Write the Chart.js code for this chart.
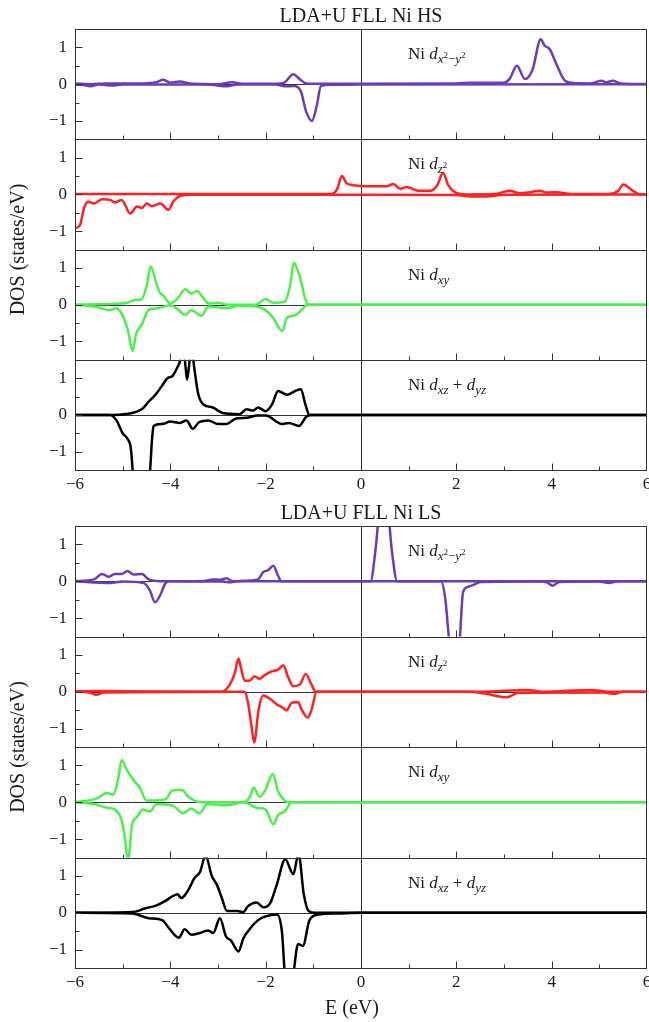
<!DOCTYPE html>
<html>
<head>
<meta charset="utf-8">
<script src="https://cdn.jsdelivr.net/npm/chart.js@4.4.0/dist/chart.umd.min.js"></script>
<style>
  body { margin: 0; background: #fff; }
  #wrap { position: relative; width: 649px; height: 1022px; }
  #wrap canvas { position: absolute; left: 0; top: 0; }
</style>
</head>
<body>
<div id="wrap"></div>
<script>
const serif = '"Liberation Serif", "DejaVu Serif", serif';

const groupTitles = ['LDA+U FLL Ni HS', 'LDA+U FLL Ni LS'];
const yTitle = 'DOS (states/eV)';
const xTitle = 'E (eV)';
const xTicks = [-6, -4, -2, 0, 2, 4, 6];
const yTicks = [-1, 0, 1];

// orbital names as [text, style] pieces (style: r roman, i italic, s/si subscript, ss sup in subscript)
const orbX2y2 = [['Ni ', 'r'], ['d', 'i'], ['x', 'si'], ['2', 'ss'], ['\u2212', 's'], ['y', 'si'], ['2', 'ss']];
const orbZ2 = [['Ni ', 'r'], ['d', 'i'], ['z', 'si'], ['2', 'ss']];
const orbXy = [['Ni ', 'r'], ['d', 'i'], ['xy', 'si']];
const orbXzYz = [['Ni ', 'r'], ['d', 'i'], ['xz', 'si'], [' + ', 'r'], ['d', 'i'], ['yz', 'si']];

// ---- HS: [E (eV), DOS] ----
const hsX2y2Up = [[-6,0.02],[-5.7,0.0],[-5.3,0.02],[-4.6,0.02],[-4.3,0.05],[-4.15,0.12],[-4.0,0.04],[-3.8,0.07],[-3.6,0.02],[-3.0,0.0],[-2.7,0.05],[-2.5,0.01],[-1.8,0.01],[-1.6,0.05],[-1.42,0.27],[-1.3,0.15],[-1.15,0.02],[-0.9,0.01],[0,0.01],[2.0,0.02],[2.3,0.04],[2.6,0.04],[3.0,0.04],[3.12,0.15],[3.27,0.5],[3.44,0.14],[3.6,0.4],[3.77,1.22],[3.85,1.05],[3.96,0.95],[4.1,0.54],[4.28,0.09],[4.45,0.03],[4.8,0.02],[5.05,0.09],[5.15,0.05],[5.28,0.09],[5.45,0.02],[6,0.0]];
const hsX2y2Dn = [[-6,-0.02],[-5.85,-0.02],[-5.68,-0.06],[-5.5,-0.01],[-5.22,-0.04],[-5.0,-0.01],[-3.2,-0.01],[-2.81,-0.06],[-2.6,-0.01],[-1.8,-0.01],[-1.6,-0.06],[-1.4,-0.05],[-1.26,-0.2],[-1.15,-0.75],[-1.03,-1.0],[-0.93,-0.6],[-0.84,-0.05],[-0.6,-0.02],[0,-0.01],[6,0]];
const hsZ2Up = [[-6,0.01],[-3,0.01],[-1,0.01],[-0.6,0.02],[-0.5,0.15],[-0.4,0.5],[-0.3,0.3],[-0.15,0.25],[0,0.23],[0.3,0.22],[0.54,0.22],[0.68,0.28],[0.82,0.15],[0.96,0.2],[1.2,0.1],[1.45,0.1],[1.6,0.25],[1.72,0.59],[1.83,0.25],[1.95,0.08],[2.2,0.0],[2.8,0.01],[3.12,0.1],[3.33,0.03],[3.55,0.06],[3.75,0.1],[3.9,0.05],[4.1,0.06],[4.4,0.01],[5.2,0.01],[5.4,0.1],[5.5,0.27],[5.72,0.08],[5.85,0],[6,0]];
const hsZ2Dn = [[-6,-0.92],[-5.9,-0.85],[-5.8,-0.33],[-5.72,-0.2],[-5.6,-0.25],[-5.43,-0.13],[-5.26,-0.15],[-5.16,-0.22],[-5.02,-0.15],[-4.84,-0.52],[-4.7,-0.33],[-4.6,-0.37],[-4.49,-0.25],[-4.39,-0.32],[-4.21,-0.25],[-4.04,-0.42],[-3.93,-0.18],[-3.8,-0.05],[-3.6,-0.01],[-1,-0.01],[0,-0.01],[2.0,-0.02],[2.3,-0.06],[2.7,-0.05],[3.0,-0.01],[6,0]];
const hsXyUp = [[-6,0],[-5.3,0.02],[-4.9,0.05],[-4.77,0.12],[-4.6,0.15],[-4.5,0.5],[-4.41,1.04],[-4.3,0.6],[-4.23,0.35],[-4.15,0.25],[-4.0,0.03],[-3.86,0.15],[-3.68,0.42],[-3.56,0.3],[-3.44,0.37],[-3.32,0.2],[-3.2,0.03],[-3.0,0.05],[-2.8,0.0],[-2.2,0.0],[-2.0,0.15],[-1.84,0.05],[-1.6,0.08],[-1.49,0.5],[-1.41,1.14],[-1.32,0.9],[-1.25,0.6],[-1.18,0.2],[-1.1,0.0],[6,0]];
const hsXyDn = [[-6,0],[-5.6,-0.05],[-5.26,-0.15],[-5.13,-0.1],[-5.0,-0.3],[-4.89,-0.7],[-4.79,-1.26],[-4.72,-0.8],[-4.6,-0.55],[-4.46,-0.15],[-4.28,-0.1],[-4.0,-0.02],[-3.85,-0.12],[-3.69,-0.28],[-3.56,-0.15],[-3.35,-0.3],[-3.2,-0.05],[-2.83,-0.1],[-2.55,-0.03],[-2.2,-0.05],[-2.0,-0.15],[-1.85,-0.35],[-1.65,-0.72],[-1.55,-0.35],[-1.4,-0.3],[-1.25,-0.15],[-1.12,0],[6,0]];
const hsXzYzUp = [[-6,0],[-5.2,0.0],[-4.8,0.05],[-4.6,0.15],[-4.46,0.35],[-4.31,0.55],[-4.17,0.8],[-4.06,1.0],[-3.96,1.05],[-3.85,1.3],[-3.8,1.45],[-3.74,1.9],[-3.68,1.3],[-3.65,0.96],[-3.61,1.3],[-3.56,1.9],[-3.5,1.3],[-3.42,0.6],[-3.32,0.3],[-3.11,0.2],[-2.9,0.05],[-2.55,0.02],[-2.4,0.15],[-2.26,0.12],[-2.16,0.2],[-2.0,0.1],[-1.86,0.3],[-1.74,0.65],[-1.55,0.55],[-1.38,0.65],[-1.26,0.7],[-1.17,0.3],[-1.08,0],[6,0]];
const hsXzYzDn = [[-6,0],[-5.26,0],[-5.13,-0.15],[-5.0,-0.5],[-4.9,-0.65],[-4.83,-0.9],[-4.76,-1.9],[-4.6,-2.2],[-4.45,-1.9],[-4.38,-0.6],[-4.35,-0.3],[-4.17,-0.25],[-4.0,-0.18],[-3.8,-0.22],[-3.66,-0.15],[-3.53,-0.38],[-3.4,-0.2],[-3.2,-0.15],[-3.0,-0.25],[-2.83,-0.25],[-2.62,-0.1],[-2.4,-0.08],[-2.17,-0.02],[-2.0,-0.02],[-1.66,-0.25],[-1.52,-0.22],[-1.3,-0.3],[-1.15,-0.05],[-1.05,0],[6,0]];

// ---- LS ----
const lsX2y2Up = [[-6,0],[-5.6,0.05],[-5.43,0.2],[-5.3,0.12],[-5.16,0.2],[-5.02,0.2],[-4.9,0.28],[-4.77,0.18],[-4.6,0.2],[-4.45,0.05],[-4.2,0.0],[-3.3,0.01],[-3.1,0.05],[-2.95,0.04],[-2.82,0.08],[-2.7,0.0],[-2.3,0.02],[-2.16,0.05],[-2.05,0.25],[-1.95,0.3],[-1.84,0.42],[-1.74,0.15],[-1.67,0.0],[0.2,0.0],[0.3,0.8],[0.48,3.0],[0.65,0.8],[0.76,0.0],[6,0]];
const lsX2y2Dn = [[-6,0],[-5.26,-0.05],[-5.0,-0.01],[-4.56,-0.05],[-4.43,-0.25],[-4.32,-0.57],[-4.22,-0.4],[-4.1,-0.05],[-4.0,0],[-2.9,-0.01],[-2.75,-0.03],[-2.6,0],[1.68,0],[1.77,-0.5],[1.85,-1.6],[1.96,-2.5],[2.07,-1.6],[2.14,-0.3],[2.25,-0.15],[2.36,-0.1],[2.5,-0.02],[3.7,-0.01],[3.9,-0.03],[4.02,-0.12],[4.16,-0.02],[5.0,-0.01],[5.2,-0.05],[5.4,0],[6,0]];
const lsZ2Up = [[-6,0.01],[-5.5,0.02],[-3,0.0],[-2.92,0.0],[-2.75,0.2],[-2.65,0.5],[-2.57,0.9],[-2.51,0.6],[-2.44,0.3],[-2.34,0.3],[-2.23,0.42],[-2.13,0.35],[-2.02,0.45],[-1.88,0.55],[-1.74,0.6],[-1.63,0.72],[-1.53,0.4],[-1.42,0.15],[-1.28,0.2],[-1.16,0.48],[-1.04,0.2],[-0.95,0],[2.5,0.0],[3.5,0.05],[3.8,0.0],[4.82,0.05],[5.2,0.0],[6,0]];
const lsZ2Dn = [[-6,0],[-5.7,-0.02],[-5.55,-0.08],[-5.4,-0.02],[-2.44,0],[-2.37,-0.3],[-2.3,-0.9],[-2.24,-1.38],[-2.15,-0.5],[-2.05,-0.1],[-1.9,-0.2],[-1.76,-0.35],[-1.66,-0.42],[-1.56,-0.5],[-1.45,-0.3],[-1.32,-0.28],[-1.24,-0.5],[-1.12,-0.7],[-1.04,-0.5],[-0.93,0],[2.3,0],[2.6,-0.05],[3.06,-0.15],[3.3,-0.03],[5.1,-0.02],[5.3,-0.06],[5.5,0],[6,0]];
const lsXyUp = [[-6,0],[-5.55,0.1],[-5.33,0.25],[-5.2,0.2],[-5.1,0.6],[-5.02,1.15],[-4.92,0.9],[-4.77,0.6],[-4.64,0.4],[-4.5,0.05],[-4.29,0.05],[-4.08,0.1],[-3.98,0.3],[-3.87,0.33],[-3.76,0.33],[-3.62,0.15],[-3.38,0],[-2.45,0],[-2.33,0.15],[-2.25,0.4],[-2.13,0.15],[-2.02,0.3],[-1.85,0.77],[-1.74,0.3],[-1.64,0.1],[-1.53,0],[6,0]];
const lsXyDn = [[-6,0],[-5.6,-0.05],[-5.33,-0.15],[-5.16,-0.2],[-5.02,-0.5],[-4.95,-1.0],[-4.89,-1.6],[-4.8,-0.6],[-4.7,-0.4],[-4.57,-0.2],[-4.43,-0.25],[-4.29,-0.05],[-3.94,-0.1],[-3.73,-0.3],[-3.56,-0.17],[-3.39,-0.3],[-3.22,-0.05],[-2.83,-0.08],[-2.45,0],[-2.2,-0.15],[-2.0,-0.2],[-1.84,-0.6],[-1.74,-0.35],[-1.6,-0.25],[-1.45,0],[6,0]];
const lsXzYzUp = [[-6,0],[-4.8,0.02],[-4.52,0.12],[-4.29,0.2],[-4.13,0.3],[-3.95,0.45],[-3.85,0.5],[-3.77,0.4],[-3.63,0.6],[-3.49,0.95],[-3.38,1.1],[-3.26,1.55],[-3.13,1.0],[-3.02,0.75],[-2.92,0.4],[-2.81,0.05],[-2.6,0.05],[-2.47,0.02],[-2.37,0.18],[-2.19,0.28],[-2.05,0.15],[-1.91,0.25],[-1.77,0.75],[-1.59,1.45],[-1.42,1.05],[-1.31,1.6],[-1.2,0.5],[-1.1,0.05],[-0.95,0],[6,0]];
const lsXzYzDn = [[-6,0],[-4.8,-0.02],[-4.45,-0.15],[-4.17,-0.2],[-4.04,-0.4],[-3.82,-0.68],[-3.7,-0.45],[-3.56,-0.6],[-3.38,-0.55],[-3.21,-0.48],[-3.1,-0.55],[-2.96,-0.15],[-2.83,-0.65],[-2.73,-0.75],[-2.57,-1.05],[-2.47,-0.7],[-2.37,-0.5],[-2.16,-0.2],[-2.0,-0.1],[-1.76,-0.05],[-1.66,-0.5],[-1.58,-1.8],[-1.45,-1.8],[-1.32,-0.85],[-1.22,-0.9],[-1.08,-0.2],[-0.9,-0.05],[-0.5,-0.02],[0,0],[6,0]];

const PURPLE = '#6a3db5', RED = '#ff2020', GREEN = '#4def4d', BLACK = '#000000';

// panel layout: top/bottom pixel edges of each group
const groups = [{top: 29, bottom: 470}, {top: 526, bottom: 968}];

const panels = [
  {g: 0, i: 0, up: hsX2y2Up, dn: hsX2y2Dn, color: PURPLE, label: orbX2y2},
  {g: 0, i: 1, up: hsZ2Up, dn: hsZ2Dn, color: RED, label: orbZ2},
  {g: 0, i: 2, up: hsXyUp, dn: hsXyDn, color: GREEN, label: orbXy},
  {g: 0, i: 3, up: hsXzYzUp, dn: hsXzYzDn, color: BLACK, label: orbXzYz},
  {g: 1, i: 0, up: lsX2y2Up, dn: lsX2y2Dn, color: PURPLE, label: orbX2y2},
  {g: 1, i: 1, up: lsZ2Up, dn: lsZ2Dn, color: RED, label: orbZ2},
  {g: 1, i: 2, up: lsXyUp, dn: lsXyDn, color: GREEN, label: orbXy},
  {g: 1, i: 3, up: lsXzYzUp, dn: lsXzYzDn, color: BLACK, label: orbXzYz},
];

const pieceStyle = {
  r:  {font: '17px ' + serif, dy: 0},
  i:  {font: 'italic 17px ' + serif, dy: 0},
  si: {font: 'italic 13px ' + serif, dy: 4},
  s:  {font: '13px ' + serif, dy: 4},
  ss: {font: '9px ' + serif, dy: -1},
};

function drawPieces(ctx, pieces, x, y) {
  for (const [t, s] of pieces) {
    const st = pieceStyle[s];
    ctx.font = st.font;
    ctx.fillText(t, x, y + st.dy);
    x += ctx.measureText(t).width;
  }
}

const minus = v => (v < 0 ? '\u2212' + Math.abs(v) : String(v));

const decor = {
  id: 'decor',
  beforeDatasetsDraw(chart) {
    const {ctx, chartArea: a, scales: {x, y}} = chart;
    const y0 = Math.round(y.getPixelForValue(0)) + 0.5;
    const x0 = Math.round(x.getPixelForValue(0)) + 0.5;
    ctx.save();
    ctx.strokeStyle = '#333';
    ctx.lineWidth = 1;
    ctx.beginPath();
    ctx.moveTo(a.left, y0); ctx.lineTo(a.right, y0);
    ctx.moveTo(x0, a.top); ctx.lineTo(x0, a.bottom);
    ctx.stroke();
    ctx.restore();
  },
  afterDraw(chart, args, opts) {
    const {ctx, chartArea: a, scales: {x, y}} = chart;
    const L = Math.round(a.left) + 0.5, R = Math.round(a.right) - 0.5;
    const T = Math.round(a.top) + 0.5, B = Math.round(a.bottom) + 0.5;
    ctx.save();
    ctx.strokeStyle = '#333';
    ctx.lineWidth = 1;
    ctx.strokeRect(L, T, R - L, B - T);
    ctx.beginPath();
    for (let e = -5; e <= 5; e++) {
      const px = Math.round(x.getPixelForValue(e)) + 0.5;
      const len = e % 2 === 0 ? 7 : 4;
      ctx.moveTo(px, B); ctx.lineTo(px, B - len);
    }
    for (const v of [-1, -0.5, 0, 0.5, 1]) {
      const py = Math.round(y.getPixelForValue(v)) + 0.5;
      const len = Number.isInteger(v) ? 7 : 4;
      ctx.moveTo(L, py); ctx.lineTo(L + len, py);
    }
    ctx.stroke();

    ctx.fillStyle = '#1a1a1a';
    ctx.textBaseline = 'alphabetic';
    ctx.textAlign = 'left';
    drawPieces(ctx, opts.label, 408, a.top + 30);

    if (opts.title) {
      ctx.font = '20px ' + serif;
      ctx.textAlign = 'center';
      ctx.fillText(opts.title, x.getPixelForValue(0), a.top - 7);
    }
    if (opts.yTitleAt) {
      ctx.font = '20px ' + serif;
      ctx.textAlign = 'center';
      ctx.textBaseline = 'middle';
      ctx.translate(19, opts.yTitleAt);
      ctx.rotate(-Math.PI / 2);
      ctx.fillText(yTitle, 0, 0);
      ctx.setTransform(1, 0, 0, 1, 0, 0);
    }
    if (opts.xTitle) {
      ctx.font = '20px ' + serif;
      ctx.textAlign = 'center';
      ctx.textBaseline = 'alphabetic';
      ctx.fillText(xTitle, 352, 1014);
    }
    ctx.restore();
  }
};

const wrap = document.getElementById('wrap');
const H = 1022;

panels.forEach(p => {
  const g = groups[p.g];
  const ph = (g.bottom - g.top) / 4;
  const top = g.top + ph * p.i;
  const bottom = top + ph;
  const last = p.i === 3;
  const xh = last ? 30 : 0;

  const cv = document.createElement('canvas');
  cv.width = 649; cv.height = H;
  wrap.appendChild(cv);

  new Chart(cv.getContext('2d'), {
    type: 'line',
    data: {
      datasets: [
        {data: p.up.map(([x, y]) => ({x, y}))},
        {data: p.dn.map(([x, y]) => ({x, y}))},
      ].map(d => Object.assign(d, {
        borderColor: p.color,
        borderWidth: 2.5,
        pointRadius: 0,
        fill: false,
        cubicInterpolationMode: 'monotone',
        clip: 0,
      })),
    },
    options: {
      responsive: false,
      animation: false,
      events: [],
      layout: {padding: {top: top, bottom: H - bottom - xh, left: 0, right: 2}},
      plugins: {
        legend: {display: false},
        tooltip: {enabled: false},
        decor: {
          label: p.label,
          title: p.i === 0 ? groupTitles[p.g] : null,
          yTitleAt: p.i === 0 ? (g.top + g.bottom) / 2 : null,
          xTitle: p.g === 1 && last,
        },
      },
      scales: {
        x: {
          type: 'linear',
          min: -6, max: 6,
          display: last,
          grid: {display: false, drawTicks: false},
          border: {display: false},
          afterBuildTicks: s => { s.ticks = xTicks.map(v => ({value: v})); },
          afterFit: s => { s.height = xh; s.paddingLeft = 0; s.paddingRight = 0; },
          ticks: {
            color: '#1a1a1a',
            font: {family: serif, size: 17},
            padding: 4,
            maxRotation: 0,
            autoSkip: false,
            callback: minus,
          },
        },
        y: {
          type: 'linear',
          min: -1.5, max: 1.5,
          grid: {display: false, drawTicks: false},
          border: {display: false},
          afterBuildTicks: s => { s.ticks = yTicks.map(v => ({value: v})); },
          afterFit: s => { s.width = 75; s.paddingTop = 0; s.paddingBottom = 0; },
          ticks: {
            color: '#1a1a1a',
            font: {family: serif, size: 17},
            padding: 8,
            callback: minus,
          },
        },
      },
    },
    plugins: [decor],
  });
});
</script>
</body>
</html>
